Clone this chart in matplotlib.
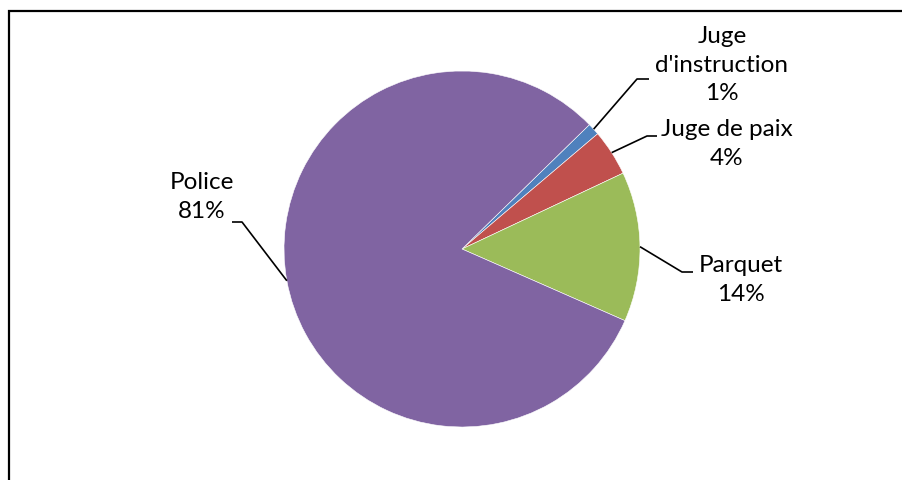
import numpy as np
import matplotlib
matplotlib.use("Agg")
import matplotlib.pyplot as plt
from matplotlib.patches import Rectangle

# ── Data ──────────────────────────────────────────────────────────────────────
categories = ["Juge\nd'instruction", "Juge de paix", "Parquet", "Police"]
shares     = [1.1, 4.2, 13.6, 81.1]
pct_labels = ["1%", "4%", "14%", "81%"]
colors     = ["#4F81BD", "#C0504D", "#9BBB59", "#8064A2"]

plt.rcParams["font.family"] = ["Lato", "DejaVu Sans"]

W, H = 903, 480
fig = plt.figure(figsize=(W / 100, H / 100), dpi=100)
ax = fig.add_axes([0, 0, 1, 1])

cx, cy, r = 462, H - 249, 178
wedges, _ = ax.pie(shares, colors=colors, startangle=44.3, counterclock=False,
                   center=(cx, cy), radius=r,
                   wedgeprops=dict(edgecolor="white", linewidth=0.4))

ax.set_xlim(0, W)
ax.set_ylim(0, H)
ax.set_aspect("equal")
ax.axis("off")

# outer chart border (only top/left visible in the crop)
ax.add_patch(Rectangle((9, -20), W + 20, H - 11 + 20, fill=False,
                       edgecolor="black", linewidth=1.6))

# label layout: (text x, text y, elbow x, elbow y, end x) in pixel space
layout = [
    (722, 65, 637, 79, 649),
    (727, 144, 647, 136, 657),
    (741, 280, 682, 272, 693),
    (202, 197, 242, 222, 232),
]

for w, name, pct, (tx, ty, ex, ey, hx) in zip(wedges, categories, pct_labels, layout):
    mid = np.deg2rad((w.theta1 + w.theta2) / 2)
    sx, sy = cx + r * np.cos(mid), cy + r * np.sin(mid)
    ax.plot([sx, ex, hx], [sy, H - ey, H - ey], color="black", lw=1.2,
            solid_capstyle="butt")
    ax.text(tx, H - ty, f"{name}\n{pct}", ha="center", va="center",
            fontsize=17.5, linespacing=1.45, color="black")

fig.savefig("out.png", dpi=100)
